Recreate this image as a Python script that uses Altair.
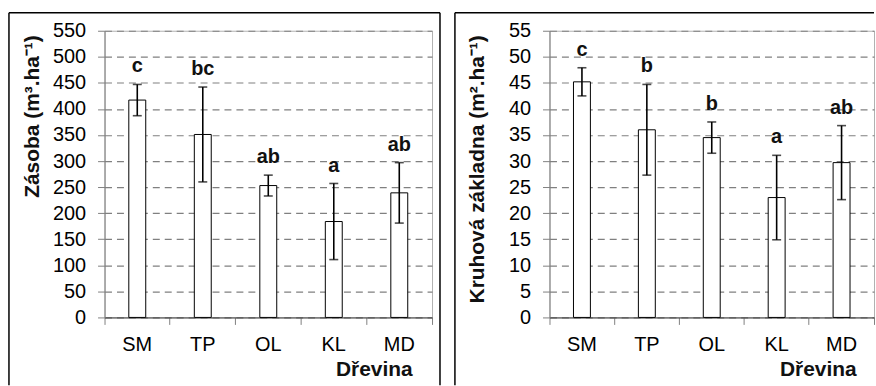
import altair as alt
import pandas as pd

species = ["SM", "TP", "OL", "KL", "MD"]
zasoba_mean = [417, 351, 253, 184, 239]
zasoba_err = [30, 91, 20, 73, 58]
zasoba_letters = ["c", "bc", "ab", "a", "ab"]
kruh_mean = [45.2, 36.0, 34.5, 23.0, 29.7]
kruh_err = [2.7, 8.7, 3.0, 8.1, 7.1]
kruh_letters = ["c", "b", "b", "a", "ab"]

FONT = "Liberation Sans"


def panel(means, errs, letters, ymax, ystep, ytitle, width, xtitle_x, border):
    df = pd.DataFrame({"drevina": species, "mean": means, "err": errs, "letter": letters})
    base = alt.Chart(df).transform_calculate(
        lower="datum.mean - datum.err", upper="datum.mean + datum.err"
    )
    xaxis = alt.Axis(
        labelAngle=0, bandPosition=1, tickExtra=True, tickSize=7, tickColor="#808080",
        domainColor="#404040", labelFont=FONT, labelFontSize=20, labelColor="#000000",
        labelPadding=10, titleFont=FONT, titleFontSize=21, titleFontWeight="bold",
        titleColor="#111111", titleAlign="right", titleX=xtitle_x, titleY=58,
        titleBaseline="alphabetic", grid=False,
    )
    yaxis = alt.Axis(
        values=list(range(0, ymax + 1, ystep)), tickSize=7, tickColor="#808080",
        domainColor="#808080", labelFont=FONT, labelFontSize=20, labelColor="#000000",
        labelPadding=12, grid=True, gridDash=[7, 5], gridColor="#808080", gridWidth=1.2,
        titleFont=FONT, titleFontSize=21, titleFontWeight="bold", titleColor="#111111",
        titleX=-66.5, titleY=4, titleAlign="right", titleBaseline="alphabetic",
    )
    xs = alt.Scale(paddingInner=0, paddingOuter=0)
    ys = alt.Scale(domain=[0, ymax], nice=False)
    x = alt.X("drevina:N", sort=species, scale=xs, axis=xaxis, title="Dřevina")

    def Y(f):
        return alt.Y(f, type="quantitative", scale=ys, axis=yaxis, title=ytitle)

    bars = base.mark_bar(width=17, fill="white", stroke="black", strokeWidth=1).encode(
        x=x, y=Y("mean")
    )
    rules = base.mark_rule(color="black", strokeWidth=1.6).encode(
        x=x, y=Y("lower"), y2="upper:Q"
    )
    cap_hi = base.mark_tick(size=9, thickness=1.6, color="black").encode(x=x, y=Y("upper"))
    cap_lo = base.mark_tick(size=9, thickness=1.6, color="black").encode(x=x, y=Y("lower"))
    text = base.mark_text(
        dy=-12, baseline="alphabetic", font=FONT, fontSize=20, fontWeight="bold", color="#111111"
    ).encode(x=x, y=Y("upper"), text="letter:N")

    bdf = pd.DataFrame({"k": [0]})
    bl, bt, br, bb, has_right = border
    edges = [
        alt.Chart(bdf).mark_rule(color="black", strokeWidth=1.5).encode(
            x=alt.value(bl), y=alt.value(bt), y2=alt.value(bb)),
        alt.Chart(bdf).mark_rule(color="black", strokeWidth=1.5).encode(
            x=alt.value(bl), x2=alt.value(br), y=alt.value(bt)),
    ]
    if has_right:
        edges.append(alt.Chart(bdf).mark_rule(color="black", strokeWidth=1.5).encode(
            x=alt.value(br), y=alt.value(bt), y2=alt.value(bb)))
    return alt.layer(bars, rules, cap_hi, cap_lo, text, *edges).properties(width=width, height=288)


left = panel(zasoba_mean, zasoba_err, zasoba_letters, 550, 50, "Zásoba (m³.ha⁻¹)", 329, 309,
             (-96, -18, 337, 356, True))
right = panel(kruh_mean, kruh_err, kruh_letters, 55, 5, "Kruhová základna (m².ha⁻¹)", 326, 308,
              (-95, -18, 326, 356, False))

chart = alt.hconcat(left, right, spacing=11).properties(
    padding={"left": 7, "top": 10, "right": 0, "bottom": 0}, background="white"
).configure_view(stroke="#b0b0b0", strokeWidth=1)

chart.save("out.html", embed_options={"renderer": "svg", "actions": False})
